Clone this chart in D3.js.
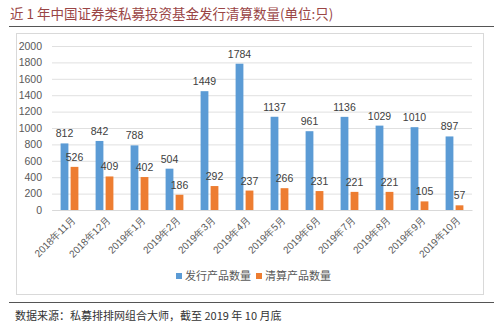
<!DOCTYPE html>
<html><head><meta charset="utf-8">
<script src="https://cdn.jsdelivr.net/npm/d3@7"></script>
<style>body{margin:0;background:#fff;}svg{display:block;font-family:"Noto Sans CJK SC","Noto Sans",sans-serif;}</style>
</head><body>
<svg id="c" width="500" height="325"></svg>
<script>
const categories = ["2018年11月","2018年12月","2019年1月","2019年2月","2019年3月","2019年4月","2019年5月","2019年6月","2019年7月","2019年8月","2019年9月","2019年10月"];
const issued = [812,842,788,504,1449,1784,1137,961,1136,1029,1010,897];
const liquidated = [526,409,402,186,292,237,266,231,221,221,105,57];
const seriesNames = ["发行产品数量","清算产品数量"];
const seriesColors = ["#5b9bd5","#ed7d31"];
const yTicks = [0,200,400,600,800,1000,1200,1400,1600,1800,2000];
const title = "近 1 年中国证券类私募投资基金发行清算数量(单位:只)";
const source = "数据来源：私募排排网组合大师，截至 2019 年 10 月底";

const svg = d3.select("#c");
svg.append("text").attr("x",10).attr("y",19).attr("font-size",13.5).attr("fill","#9a4545").text(title);
svg.append("line").attr("x1",9).attr("x2",494).attr("y1",26.5).attr("y2",26.5).attr("stroke","#555").attr("stroke-width",1.2);
svg.append("rect").attr("x",16.5).attr("y",33.5).attr("width",467).attr("height",261).attr("fill","#fff").attr("stroke","#d9d9d9");
svg.append("line").attr("x1",9).attr("x2",494).attr("y1",302.5).attr("y2",302.5).attr("stroke","#555").attr("stroke-width",1.2);
svg.append("text").attr("x",15).attr("y",320).attr("font-size",11).attr("fill","#333").text(source);

const x = d3.scaleBand().domain(categories).range([52,472]).paddingInner(0).paddingOuter(0);
const y = d3.scaleLinear().domain([0,2000]).range([210,46]);

const ga = svg.append("g").attr("transform","translate(52,0)")
  .call(d3.axisLeft(y).tickValues(yTicks).tickFormat(d3.format("d")).tickSize(-420).tickPadding(10));
ga.select(".domain").remove();
ga.selectAll(".tick line").attr("stroke","#e0e0e0");
ga.selectAll(".tick text").attr("fill","#595959").attr("font-size",10.5).attr("font-family","Liberation Sans, Arial, sans-serif");

const gx = svg.append("g").attr("transform","translate(0,210)")
  .call(d3.axisBottom(x).tickSize(0).tickPadding(0));
gx.select(".domain").attr("stroke","#d9d9d9");
gx.selectAll(".tick text").attr("fill","#595959").attr("font-size",10)
  .attr("text-anchor","end").attr("transform","translate(4,8) rotate(-45)").attr("dy","0.35em");

const bw = 7.8, gap = 2.2;
const series = [issued, liquidated];
series.forEach((vals,si)=>{
  const g = svg.append("g");
  const xo = c => x(c) + x.bandwidth()/2 + (si===0 ? -(bw+gap/2) : gap/2);
  g.selectAll("rect").data(categories).join("rect")
    .attr("x",(c)=>xo(c)).attr("width",bw)
    .attr("y",(c,i)=>y(vals[i])).attr("height",(c,i)=>y(0)-y(vals[i]))
    .attr("fill",seriesColors[si]);
  g.selectAll("text").data(categories).join("text")
    .attr("x",(c)=>xo(c)+bw/2).attr("y",(c,i)=>y(vals[i])-6)
    .attr("text-anchor","middle").attr("font-size",10.5).attr("fill","#404040")
    .attr("font-family","Liberation Sans, Arial, sans-serif")
    .text((c,i)=>vals[i]);
});

const leg = svg.append("g");
const lx = [176,256];
seriesNames.forEach((n,i)=>{
  leg.append("rect").attr("x",lx[i]).attr("y",273).attr("width",6).attr("height",6).attr("fill",seriesColors[i]);
  leg.append("text").attr("x",lx[i]+9).attr("y",280).attr("font-size",11).attr("fill","#595959").text(n);
});
</script>
</body></html>
